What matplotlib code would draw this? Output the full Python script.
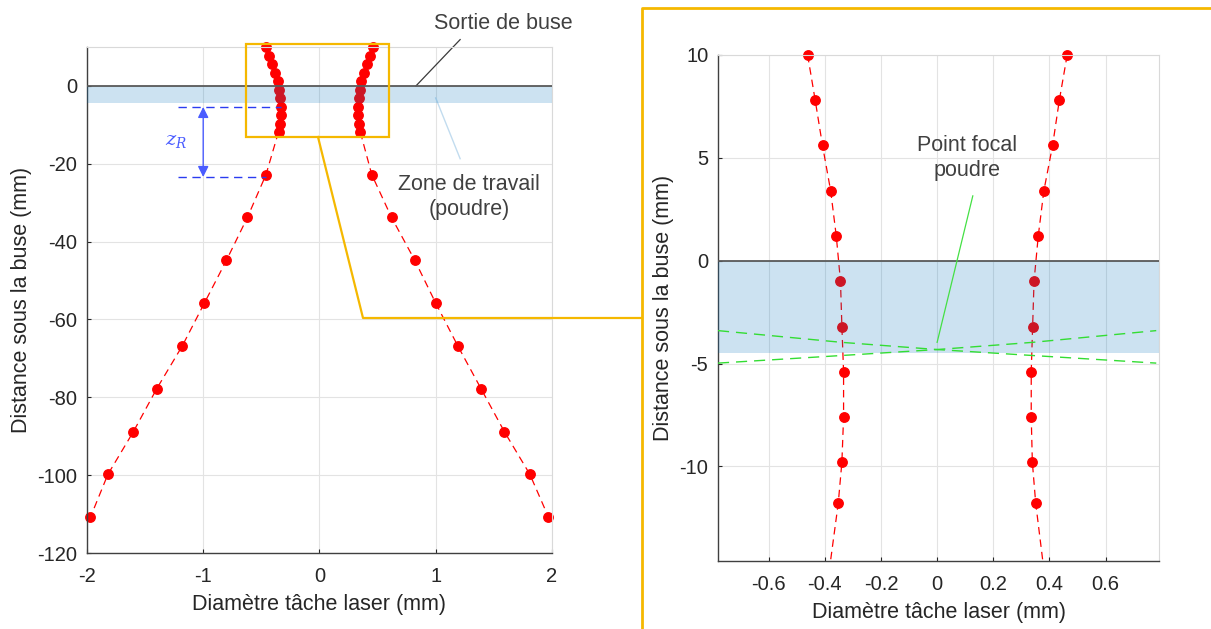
import matplotlib
matplotlib.use('Agg')
import matplotlib.pyplot as plt
from matplotlib.patches import Rectangle

plt.rcParams['font.family'] = ['Liberation Sans', 'DejaVu Sans']
plt.rcParams['mathtext.fontset'] = 'dejavuserif'
plt.rcParams['axes.unicode_minus'] = False

# mesures : distance sous la buse (mm) et diametre de tache (mm)
y_proche = [10, 7.8, 5.6, 3.4, 1.2, -1.0, -3.2, -5.4, -7.6, -9.8, -11.8]
x_gauche_proche = [-0.461, -0.434, -0.408, -0.379, -0.359, -0.344, -0.339, -0.333, -0.333, -0.339, -0.352]
x_droite_proche = [0.463, 0.435, 0.411, 0.380, 0.360, 0.345, 0.340, 0.335, 0.335, 0.339, 0.351]
y_loin = [-22.8, -33.8, -44.8, -55.8, -66.8, -77.8, -88.8, -99.8, -110.8]
x_gauche_loin = [-0.46, -0.62, -0.80, -0.99, -1.18, -1.40, -1.60, -1.82, -1.97]
x_droite_loin = [0.45, 0.62, 0.82, 1.00, 1.19, 1.39, 1.59, 1.81, 1.97]

y_all = y_proche + y_loin
xg_all = x_gauche_proche + x_gauche_loin
xd_all = x_droite_proche + x_droite_loin

zone_haut = 0
zone_bas = -4.5

# cone de poudre (point focal)
x_poudre = [-0.78, -0.34, 0.0, 0.34, 0.78]
y_poudre_a = [-3.40, -3.97, -4.32, -4.61, -4.98]
y_poudre_b = [-4.98, -4.61, -4.32, -3.97, -3.40]

rouge = '#ff0000'
gris_txt = '#262626'
jaune = '#f5b800'
bleu_zone = (0.0, 0.447, 0.741)
tirets = (6, 4)
fs_lab = 15.5
fs_tick = 14.5


def style_axes(ax):
    ax.grid(True, color='#e3e3e3', linewidth=0.8)
    ax.set_axisbelow(True)
    for s in ['left', 'bottom']:
        ax.spines[s].set_color('#404040')
        ax.spines[s].set_linewidth(1.0)
    for s in ['top', 'right']:
        ax.spines[s].set_color('#d9d9d9')
        ax.spines[s].set_linewidth(0.8)
    ax.tick_params(colors=gris_txt, labelsize=fs_tick, length=3, width=0.8, direction='in')
    ax.tick_params(axis='x', pad=10)
    ax.tick_params(axis='y', pad=7)
    ax.xaxis.labelpad = 6
    ax.yaxis.labelpad = 4


fig = plt.figure(figsize=(12.11, 6.29), dpi=100)
ax1 = fig.add_axes([0.0718, 0.1208, 0.384, 0.8045])
ax2 = fig.add_axes([0.5929, 0.1081, 0.3642, 0.8045])

# ---- vue generale ----
ax1.plot(xg_all, y_all, '--o', color=rouge, lw=0.9, ms=6.8, dashes=tirets, clip_on=False)
ax1.plot(xd_all, y_all, '--o', color=rouge, lw=0.9, ms=6.8, dashes=tirets, clip_on=False)
ax1.axhspan(zone_bas, zone_haut, color=bleu_zone, alpha=0.2, lw=0, zorder=3)
ax1.axhline(0, color='#5a5a5a', lw=1.3, zorder=3)
ax1.set_xlim(-2, 2)
ax1.set_ylim(-120, 10)
ax1.set_xticks([-2, -1, 0, 1, 2])
ax1.set_yticks([-120, -100, -80, -60, -40, -20, 0])
ax1.set_xlabel('Diamètre tâche laser (mm)', fontsize=fs_lab, color=gris_txt)
ax1.set_ylabel('Distance sous la buse (mm)', fontsize=fs_lab, color=gris_txt)
style_axes(ax1)

# cadre de zoom
ax1.add_patch(Rectangle((-0.63, -13.1), 1.23, 23.9, fill=False, edgecolor=jaune,
                        lw=1.6, clip_on=False, zorder=5))

# z_R
ax1.plot([-1.22, -0.33], [-5.4, -5.4], color='#2a3cf0', lw=1.0, dashes=tirets, zorder=4)
ax1.plot([-1.22, -0.46], [-23.5, -23.5], color='#2a3cf0', lw=1.0, dashes=tirets, zorder=4)
ax1.annotate('', xy=(-1.0, -5.4), xytext=(-1.0, -23.4),
             arrowprops=dict(arrowstyle='<|-|>', color='#4a5cff', lw=1.0,
                             mutation_scale=16, shrinkA=0, shrinkB=0))
ax1.text(-1.23, -14.2, '$z_R$', color='#4a5cff', fontsize=14, ha='center', va='center')

# annotations
ax1.plot([0.83, 1.21], [0, 11.9], color='#3a3a3a', lw=0.9, clip_on=False)
ax1.text(1.58, 16.0, 'Sortie de buse', fontsize=fs_lab, color='#404040', ha='center', va='center')
ax1.plot([1.0, 1.21], [-3.1, -18.7], color='#c2dcef', lw=1.0)
ax1.text(1.29, -28.5, 'Zone de travail\n(poudre)', fontsize=fs_lab, color='#404040',
         ha='center', va='center', linespacing=1.25)

# ---- vue zoomee ----
ax2.plot(xg_all, y_all, '--', color=rouge, lw=0.9, dashes=tirets)
ax2.plot(xd_all, y_all, '--', color=rouge, lw=0.9, dashes=tirets)
ax2.plot(x_gauche_proche, y_proche, 'o', color=rouge, ms=6.8, clip_on=False)
ax2.plot(x_droite_proche, y_proche, 'o', color=rouge, ms=6.8, clip_on=False)
ax2.axhspan(zone_bas, zone_haut, color=bleu_zone, alpha=0.2, lw=0, zorder=3)
ax2.axhline(0, color='#5a5a5a', lw=1.3, zorder=3)
ax2.plot(x_poudre, y_poudre_a, color='#33dd33', lw=1.0, dashes=(8, 5), zorder=4)
ax2.plot(x_poudre, y_poudre_b, color='#33dd33', lw=1.0, dashes=(8, 5), zorder=4)
ax2.plot([0.127, 0.0], [3.15, -3.97], color='#44e044', lw=0.9, zorder=4)
ax2.text(0.107, 5.0, 'Point focal\npoudre', fontsize=fs_lab, color='#404040',
         ha='center', va='center', linespacing=1.25)
ax2.set_xlim(-0.78, 0.79)
ax2.set_ylim(-14.6, 10)
ax2.set_xticks([-0.6, -0.4, -0.2, 0, 0.2, 0.4, 0.6])
ax2.set_xticklabels(['-0.6', '-0.4', '-0.2', '0', '0.2', '0.4', '0.6'])
ax2.set_yticks([-10, -5, 0, 5, 10])
ax2.set_xlabel('Diamètre tâche laser (mm)', fontsize=fs_lab, color=gris_txt)
ax2.set_ylabel('Distance sous la buse (mm)', fontsize=fs_lab, color=gris_txt)
style_axes(ax2)

# ---- liaison entre les deux vues (coordonnees en pixels de la figure) ----
over = fig.add_axes([0, 0, 1, 1], facecolor='none')
over.set_xlim(0, 1211)
over.set_ylim(629, 0)
over.axis('off')
over.plot([318, 363, 642], [137, 318, 318], color=jaune, lw=1.6)
over.plot([642, 642, 1211], [629, 7.5, 7.5], color=jaune, lw=2.0)

fig.savefig('out.png', dpi=100)
